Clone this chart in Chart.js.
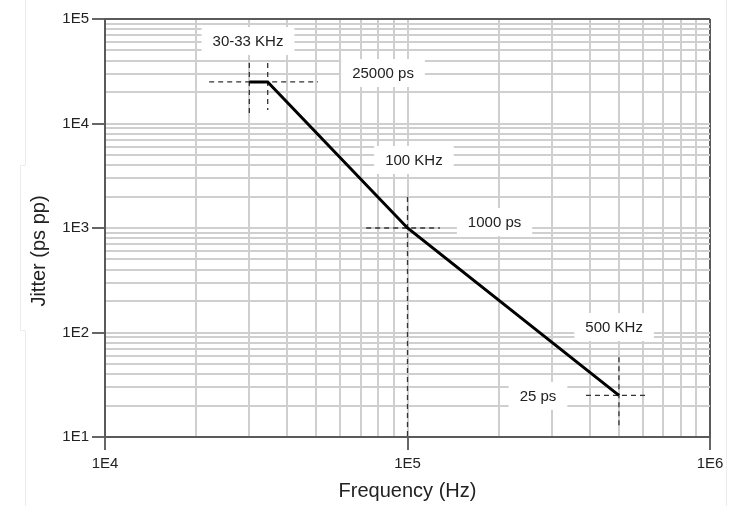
<!DOCTYPE html>
<html>
<head>
<meta charset="utf-8">
<script src="https://cdn.jsdelivr.net/npm/chart.js@4/dist/chart.umd.min.js"></script>
<style>
html,body{margin:0;padding:0;background:#fff;}
#wrap{width:734px;height:506px;}
</style>
</head>
<body>
<div id="wrap"><canvas id="c" width="734" height="506"></canvas></div>
<script>
// ---- data ----
const freqHz = [30000, 34500, 100000, 500000];
const jitterPs = [25000, 25000, 1000, 25];

const xDecades = [4, 5, 6];
const yDecades = [1, 2, 3, 4, 5];
const xTickLabels = ['1E4', '1E5', '1E6'];
const yTickLabels = ['1E1', '1E2', '1E3', '1E4', '1E5'];

const xTitle = 'Frequency (Hz)';
const yTitle = 'Jitter (ps pp)';

// dashed guide segments: [x1, y1, x2, y2] in data units
const guideX1 = [30000, 34500, 22100, 100000, 73000, 500000, 389000];
const guideY1 = [37900, 37900, 25000, 1980, 1000, 58, 25];
const guideX2 = [30000, 34500, 50600, 100000, 128000, 500000, 610000];
const guideY2 = [12600, 13500, 25000, 10, 1000, 12.2, 25];

// annotation labels (centre in data units)
const noteText = ['30-33 KHz', '25000 ps', '100 KHz', '1000 ps', '500 KHz', '25 ps'];
const noteX = [29700, 83000, 105000, 194000, 482000, 270000];
const noteY = [61500, 30400, 4480, 1140, 113, 24.7];

// ---- helpers ----
function decadeTicks(decs) {
  const t = [];
  for (let i = 0; i < decs.length; i++) {
    const base = Math.pow(10, decs[i]);
    if (i === decs.length - 1) { t.push({value: base}); break; }
    for (let m = 1; m <= 9; m++) t.push({value: m * base});
  }
  return t;
}
function isDecade(v) {
  const e = Math.log10(v);
  return Math.abs(e - Math.round(e)) < 1e-9;
}
function labelFor(v, decs, labels) {
  if (!isDecade(v)) return '';
  const i = decs.indexOf(Math.round(Math.log10(v)));
  return i >= 0 ? labels[i] : '';
}

const datasets = [{
  data: freqHz.map((x, i) => ({x, y: jitterPs[i]})),
  borderColor: '#000',
  borderWidth: 3,
  pointRadius: 0,
  showLine: true,
  tension: 0,
  order: 0
}];
for (let i = 0; i < guideX1.length; i++) {
  datasets.push({
    data: [{x: guideX1[i], y: guideY1[i]}, {x: guideX2[i], y: guideY2[i]}],
    borderColor: '#333',
    borderWidth: 1.3,
    borderDash: [5, 4],
    pointRadius: 0,
    showLine: true,
    order: 1
  });
}

const FONT = '"Liberation Sans", Arial, sans-serif';

const notePlugin = {
  id: 'notes',
  beforeDraw(chart) {
    // faint page/frame edges seen in the reference image
    const {ctx} = chart;
    ctx.save();
    ctx.strokeStyle = '#ececec';
    ctx.lineWidth = 1;
    ctx.beginPath();
    ctx.moveTo(25.5, 0); ctx.lineTo(25.5, 165.5); ctx.lineTo(20.5, 165.5);
    ctx.lineTo(20.5, 330.5); ctx.lineTo(25.5, 330.5); ctx.lineTo(25.5, 506);
    ctx.moveTo(726.5, 0); ctx.lineTo(726.5, 506);
    ctx.stroke();
    ctx.restore();
  },
  afterDatasetsDraw(chart) {
    const {ctx, scales} = chart;
    ctx.save();
    ctx.font = '15px ' + FONT;
    ctx.textAlign = 'center';
    ctx.textBaseline = 'middle';
    for (let i = 0; i < noteText.length; i++) {
      const px = scales.x.getPixelForValue(noteX[i]);
      const py = scales.y.getPixelForValue(noteY[i]);
      const w = ctx.measureText(noteText[i]).width + 22;
      const h = 28;
      ctx.fillStyle = '#fff';
      ctx.fillRect(px - w / 2, py - h / 2, w, h);
      ctx.fillStyle = '#222';
      ctx.fillText(noteText[i], px, py + 1);
    }
    // y-axis title (placed slightly below the axis centre, as in the reference)
    ctx.font = '20px ' + FONT;
    ctx.fillStyle = '#222';
    ctx.translate(39, 251);
    ctx.rotate(-Math.PI / 2);
    ctx.fillText(yTitle, 0, 0);
    ctx.restore();
  }
};

const frameColor = '#5a5a5a';
const gridColor = '#cfcfcf';

new Chart(document.getElementById('c'), {
  type: 'scatter',
  data: {datasets},
  plugins: [notePlugin],
  options: {
    responsive: false,
    animation: false,
    devicePixelRatio: 1,
    layout: {padding: {top: 19, right: 24, left: 0, bottom: 0}},
    plugins: {legend: {display: false}, tooltip: {enabled: false}},
    scales: {
      x: {
        type: 'logarithmic',
        min: 1e4, max: 1e6,
        afterBuildTicks: s => { s.ticks = decadeTicks(xDecades); },
        afterFit: s => { s.height = 69; },
        ticks: {
          autoSkip: false, maxRotation: 0, minRotation: 0, padding: 5,
          color: '#222',
          font: {family: FONT, size: 15},
          callback: v => labelFor(v, xDecades, xTickLabels)
        },
        grid: {
          color: c => (c.tick && (c.tick.value === 1e4 || c.tick.value === 1e6)) ? frameColor : gridColor,
          lineWidth: 2,
          tickLength: 13,
          tickColor: c => (c.tick && isDecade(c.tick.value)) ? '#333' : 'rgba(0,0,0,0)',
          tickWidth: 1.5
        },
        border: {display: true, color: frameColor, width: 2},
        title: {
          display: true, text: xTitle, color: '#222',
          font: {family: FONT, size: 20, lineHeight: 1.2},
          padding: {top: 4, bottom: 3}
        }
      },
      y: {
        type: 'logarithmic',
        min: 10, max: 1e5,
        afterBuildTicks: s => { s.ticks = decadeTicks(yDecades); },
        afterFit: s => { s.width = 105; },
        ticks: {
          autoSkip: false, padding: 3,
          color: '#222',
          font: {family: FONT, size: 15},
          callback: v => labelFor(v, yDecades, yTickLabels)
        },
        grid: {
          color: c => (c.tick && (c.tick.value === 10 || c.tick.value === 1e5)) ? frameColor : gridColor,
          lineWidth: 2,
          tickLength: 13,
          tickColor: c => (c.tick && isDecade(c.tick.value)) ? '#333' : 'rgba(0,0,0,0)',
          tickWidth: 1.5
        },
        border: {display: true, color: frameColor, width: 2},
        title: {display: false}
      }
    }
  }
});
</script>
</body>
</html>
